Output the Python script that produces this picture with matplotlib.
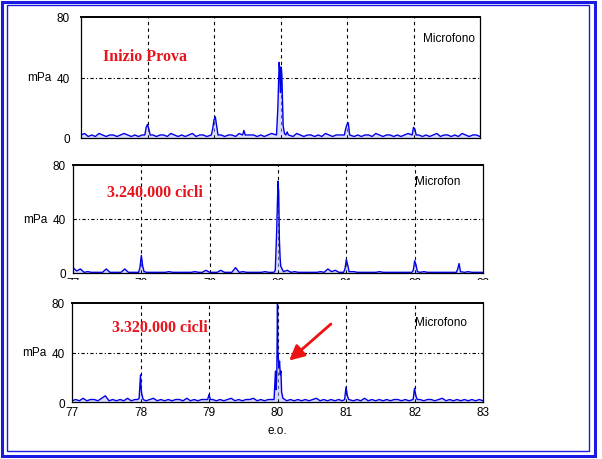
import matplotlib
matplotlib.use("Agg")
from matplotlib import pyplot as plt
from matplotlib.patches import Rectangle
import numpy as np

# spectrum baselines, one value every 0.05 e.o. from 77 to 83 (mPa)
base_inizio = [2, 3, 1, 2, 1, 3, 2, 1, 2, 2, 1,
               2, 3, 2, 1, 2, 1, 2, 3, 1, 2,
               1, 2, 2, 1, 3, 2, 1, 2, 1, 2,
               3, 1, 2, 2, 1, 2, 3, 1, 2, 1,
               2, 2, 1, 3, 2, 1, 2, 2, 1, 2,
               1, 2, 3, 1, 2, 1, 2, 2, 1, 3,
               2, 1, 2, 2, 1, 2, 1, 3, 2, 1,
               2, 2, 1, 2, 3, 1, 2, 1, 2, 2,
               1, 3, 2, 1, 2, 2, 1, 2, 1, 2,
               3, 1, 2, 2, 1, 2, 1, 2, 3, 1,
               2, 2, 1, 2, 1, 3, 2, 1, 2, 2, 1]
base_3240 = [4, 1.5, 3, 0.5, 1, 0.5, 0.5, 0.5, 0.5, 3, 0.5,
             0.5, 0.5, 0.5, 3, 0.5, 0.5, 0.5, 0.5, 1, 0.5,
             0.5, 0.5, 0.5, 0.5, 0.5, 1, 0.5, 0.5, 0.5, 0.5,
             0.5, 0.5, 1, 0.5, 0.5, 2, 0.5, 0.5, 0.5, 2,
             0.5, 0.5, 0.5, 4, 0.5, 1, 0.5, 0.5, 0.5, 0.5,
             0.5, 1, 0.5, 0.5, 0.5, 0.5, 0.5, 2, 0.5, 1,
             0.5, 0.5, 0.5, 0.5, 0.5, 0.5, 1, 0.5, 3, 1,
             2, 0.5, 0.5, 0.5, 0.5, 1, 0.5, 0.5, 0.5, 0.5,
             0.5, 0.5, 1, 0.5, 0.5, 0.5, 0.5, 0.5, 0.5, 0.5,
             0.5, 0.5, 0.5, 0.5, 1, 0.5, 0.5, 0.5, 0.5, 0.5,
             0.5, 0.5, 0.5, 0.5, 0.5, 0.5, 1, 0.5, 0.5, 0.5, 0.5]
base_3320 = [1, 2, 1, 3, 1, 2, 2, 1, 3, 5, 1,
             2, 1, 2, 1, 3, 1, 2, 1, 2, 1,
             2, 3, 1, 2, 1, 2, 1, 2, 2, 1,
             3, 1, 2, 1, 2, 2, 1, 2, 1, 2,
             1, 2, 3, 1, 2, 1, 2, 2, 3, 1,
             2, 1, 2, 2, 1, 2, 3, 1, 2, 1,
             2, 1, 2, 1, 2, 3, 1, 2, 1, 2,
             1, 2, 1, 2, 2, 1, 2, 1, 3, 1,
             2, 1, 2, 1, 2, 1, 2, 2, 1, 2,
             1, 2, 1, 2, 1, 2, 2, 1, 2, 3,
             1, 2, 1, 2, 1, 2, 1, 2, 1, 2, 1]

# peaks (frequency in e.o., amplitude in mPa)
peak_f_inizio = [77.96, 77.98, 78.0, 78.02, 78.04,
                 78.96, 78.98, 79.0, 79.02, 79.04, 79.06,
                 79.43, 79.45, 79.47,
                 79.94, 79.96, 79.97, 79.98, 79.99, 80.0, 80.01, 80.02,
                 80.03, 80.04, 80.06, 80.08, 80.1, 80.12,
                 80.96, 80.98, 81.0, 81.02, 81.04,
                 81.98, 82.0, 82.02, 82.04]
peak_a_inizio = [2, 7, 9, 6, 2,
                 2, 6, 12, 14, 8, 2,
                 2, 5, 2,
                 2, 20, 35, 50, 44, 30, 47, 42,
                 25, 8, 3, 2, 4, 2,
                 2, 6, 9, 10, 2,
                 2, 7, 6, 2]
peak_f_3240 = [77.96, 77.98, 78.0, 78.02, 78.04,
               79.94, 79.96, 79.98, 79.99, 80.0, 80.01, 80.02, 80.03,
               80.04, 80.06, 80.08,
               80.96, 80.98, 81.0, 81.02, 81.04,
               81.96, 81.98, 82.0, 82.02, 82.04,
               82.61, 82.63, 82.65, 82.67]
peak_a_3240 = [0.5, 4, 13, 5, 1,
               0.5, 2, 30, 50, 68, 60, 25, 12,
               5, 3, 1,
               0.5, 3, 10, 6, 1,
               0.5, 2, 9, 6, 1,
               0.5, 3, 7, 1]
peak_f_3320 = [77.96, 77.98, 78.0, 78.01, 78.02, 78.04,
               78.98, 79.0, 79.02,
               79.95, 79.97, 79.98, 79.99, 80.0, 80.005, 80.01, 80.02,
               80.03, 80.04, 80.05, 80.06, 80.08,
               80.98, 81.0, 81.02, 81.04,
               81.98, 82.0, 82.02, 82.04]
peak_a_3320 = [2, 3, 22, 10, 6, 2,
               2, 6, 2,
               2, 25, 10, 24, 80, 40, 38, 28,
               33, 22, 25, 8, 3,
               2, 12, 5, 2,
               2, 11, 5, 2]

panels = [
    (base_inizio, peak_f_inizio, peak_a_inizio, "Inizio Prova", "Microfono"),
    (base_3240, peak_f_3240, peak_a_3240, "3.240.000 cicli", "Microfon"),
    (base_3320, peak_f_3320, peak_a_3320, "3.320.000 cicli", "Microfono"),
]

# axes boxes in pixels (left, top, right, bottom) of a 602x460 figure
boxes = [(81, 18, 480, 139), (73, 166, 483, 274), (72, 304, 483, 403)]
label_pos = [(77.96, 54), (78.2, 60), (78.28, 61)]
mic_pos = [(82.14, 66), (82.01, 68), (82.01, 65)]
mpa_x = [-0.075, -0.062, -0.062]
ypad = [8, 5, 5]

narrow = ['Liberation Sans Narrow', 'Liberation Sans', 'DejaVu Sans']
serif = ['Liberation Serif', 'DejaVu Serif']
W, H = 602, 460

fig = plt.figure(figsize=(6.02, 4.60), dpi=100)

axes = []
for i, (base, pf, pa, label, mic) in enumerate(panels):
    l, t, r, b = boxes[i]
    ax = fig.add_axes([l / W, 1 - b / H, (r - l) / W, (b - t) / H])
    axes.append(ax)

    bf = np.linspace(77, 83, len(base))
    ba = np.array(base, dtype=float)
    pf = np.array(pf)
    pa = np.array(pa, dtype=float)
    keep = np.array([np.min(np.abs(pf - x)) > 0.03 for x in bf])
    f = np.concatenate([bf[keep], pf])
    a = np.concatenate([ba[keep], pa])
    order = np.argsort(f)
    f, a = f[order], a[order]

    ax.fill_between(f, 0, a, color='#b8b8ff', alpha=0.5, lw=0)
    ax.plot(f, a, color='#0000e6', lw=1.0)

    for x in [78, 79, 80, 81, 82]:
        ax.axvline(x, color='black', lw=0.8, ls=(0, (3, 3)), zorder=0.5)
    ax.axhline(40, color='black', lw=0.8, ls=(0, (3, 2, 1, 2)), zorder=0.5)

    ax.set_xlim(77, 83)
    ax.set_ylim(0, 80)
    ax.set_yticks([0, 40, 80])
    ax.set_xticks([77, 78, 79, 80, 81, 82, 83])
    ax.tick_params(direction='in', length=2, width=0.6, pad=3)
    ax.tick_params(axis='y', pad=ypad[i])
    for lab in ax.get_yticklabels() + ax.get_xticklabels():
        lab.set_family(narrow)
        lab.set_fontsize(8.5)
    if i == 0:
        ax.set_xticklabels([])
    for s in ax.spines.values():
        s.set_linewidth(0.9)
    ax.spines['top'].set_linewidth(1.4)

    ax.text(label_pos[i][0], label_pos[i][1], label, color='#e8141c',
            family=serif, weight='bold', fontsize=11.5, ha='center', va='center')
    ax.text(mic_pos[i][0], mic_pos[i][1], mic, family=narrow, fontsize=8.5,
            ha='left', va='center')
    ax.text(mpa_x[i], 40, 'mPa', transform=ax.get_yaxis_transform(),
            family=narrow, fontsize=8.5, ha='right', va='center')

axes[2].set_xlabel('e.o.', family=narrow, fontsize=8.5, labelpad=4)
axes[2].annotate('', xy=(80.14, 32), xytext=(80.81, 64.5),
                 arrowprops=dict(arrowstyle='-|>,head_length=0.9,head_width=0.45',
                                 color='#ee1111', lw=2))

# the lower half of the middle tick labels is cut off in the original
fig.patches.append(Rectangle((60 / W, 1 - 296 / H), 440 / W, 15 / H,
                             transform=fig.transFigure, facecolor='white',
                             edgecolor='none', zorder=10))

# double blue frame
fig.patches.append(Rectangle((1.5 / W, 1 - 457 / H), 593 / W, 454 / H,
                             transform=fig.transFigure, fill=False,
                             edgecolor='#1a1ae0', lw=2.2, zorder=11))
fig.patches.append(Rectangle((7 / W, 1 - 452 / H), 582 / W, 446 / H,
                             transform=fig.transFigure, fill=False,
                             edgecolor='#1a1ae0', lw=1.0, zorder=11))

fig.savefig('out.png', dpi=100)
